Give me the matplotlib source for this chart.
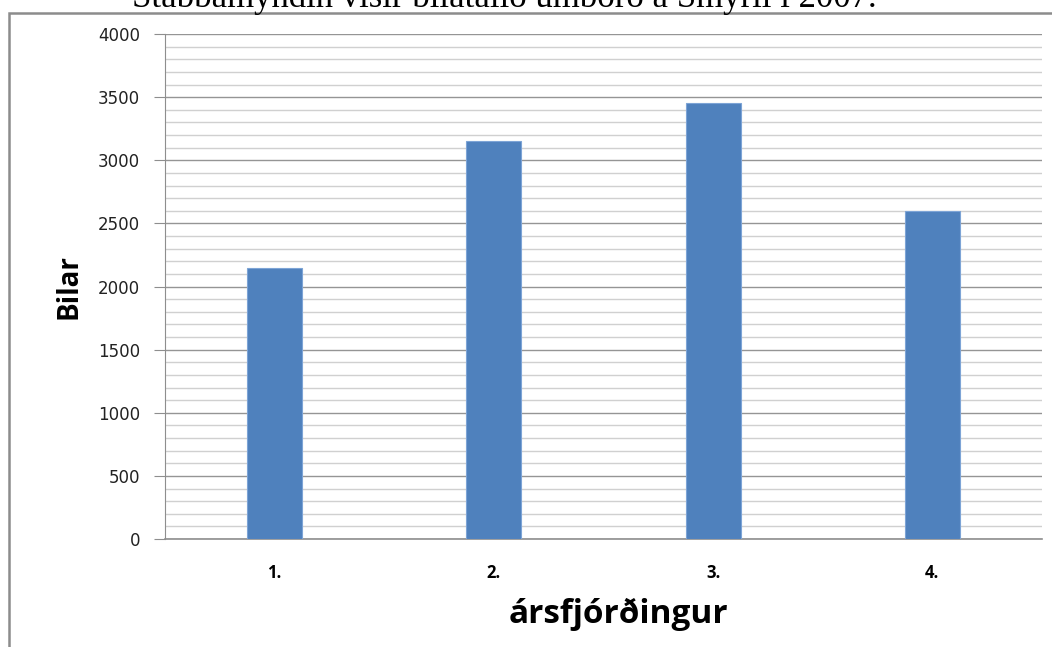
import numpy as np
import matplotlib
matplotlib.use('Agg')
import matplotlib.pyplot as plt
from matplotlib.patches import Rectangle

# data
quarters = ['1.', '2.', '3.', '4.']
cars = [2150, 3150, 3450, 2600]

W, H = 1052, 647
fig = plt.figure(figsize=(W / 100, H / 100), dpi=100)

# outer frame (top and left edges visible)
fig.patches.append(Rectangle((9 / W, -0.1), 1.2, 1 - 13 / H + 0.1, transform=fig.transFigure,
                             fill=False, edgecolor='#8c8c8c', linewidth=1.8))

fig.text(504 / W, 1 - 7 / H, 'Stabbamyndin vísir bílatalið umborð á Smyril í 2007.',
         family='Liberation Serif', fontsize=25, ha='center', va='baseline')

ax = fig.add_axes([165 / W, 1 - 539 / H, (1042 - 165) / W, (539 - 34) / H])

x = np.arange(len(quarters))
ax.bar(x, cars, width=0.25, color='#4F81BD', edgecolor='#7da4d6', linewidth=0.8, zorder=3)

ax.set_xlim(-0.5, 3.5)
ax.set_ylim(0, 4000)
ax.set_yticks(np.arange(0, 4001, 500))
ax.set_yticks(np.arange(0, 4001, 100), minor=True)
ax.grid(True, which='major', axis='y', color='#959595', linewidth=1.0, zorder=0)
ax.grid(True, which='minor', axis='y', color='#d0d0d0', linewidth=1.0, zorder=0)

for s in ['top', 'right']:
    ax.spines[s].set_visible(False)
ax.spines['left'].set_color('#8e8e8e')
ax.spines['bottom'].set_color('#8e8e8e')
ax.spines['bottom'].set_linewidth(1.2)

ax.tick_params(axis='y', which='major', length=8, color='#8e8e8e', labelsize=12, pad=10,
               labelcolor='#222222')
ax.tick_params(axis='y', which='minor', length=0)
ax.tick_params(axis='x', length=0, pad=18)
ax.set_xticks(x)
ax.set_xticklabels(quarters, fontsize=12, fontweight='bold', family='Open Sans')

ax.set_ylabel('Bilar', fontsize=20, fontweight='bold', family='Open Sans', labelpad=10)
ax.set_xlabel('ársfjórðingur', fontsize=24, fontweight='bold', family='Open Sans')
ax.xaxis.set_label_coords((618 - 165) / (1042 - 165), -(614 - 539) / (539 - 34))
ax.xaxis.label.set_va('center')

fig.savefig('out.png', dpi=100)
